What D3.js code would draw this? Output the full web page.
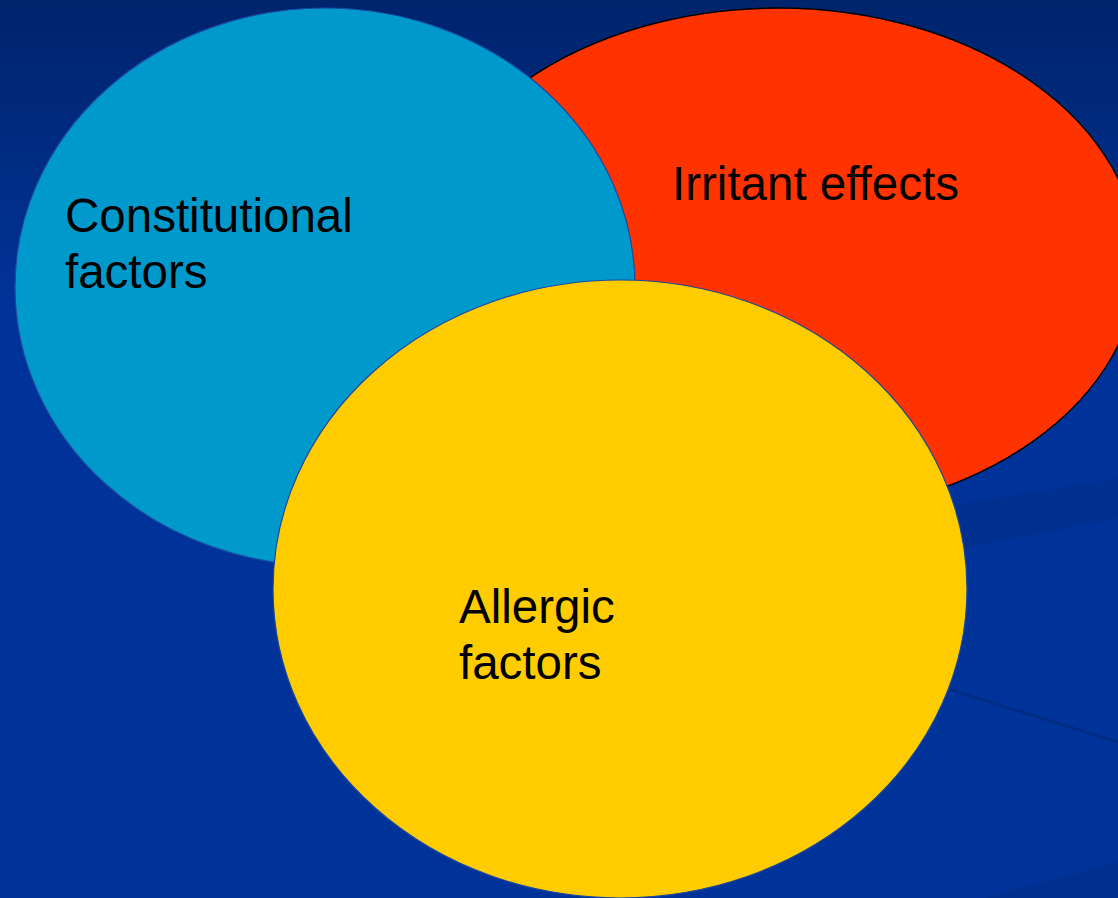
<!DOCTYPE html>
<html>
<head>
<meta charset="utf-8">
<script src="https://cdn.jsdelivr.net/npm/d3@7"></script>
<style>
  html, body { margin: 0; padding: 0; background: #003399; }
  svg { display: block; }
</style>
</head>
<body>
<svg id="chart" width="1118" height="898"></svg>
<script>
// the three factor sets, drawn back to front
var setNames = ["Irritant effects", "Constitutional factors", "Allergic factors"];
var setLines = [["Irritant effects"], ["Constitutional", "factors"], ["Allergic", "factors"]];
var setColors = ["#ff3300", "#0099cc", "#ffcc00"];
var setStrokes = ["#000000", "#1a47a0", "#1a47a0"];

// ellipse layout, in slide units (0..1118 x 0..898)
var cxs = [778, 325, 620];
var cys = [262, 287, 589];
var rxs = [360, 310, 347];
var rys = [254, 279, 309];

// label anchor (left, first baseline)
var labelX = [672, 65, 459];
var labelY = [200, 232, 623];

var width = 1118, height = 898;
var x = d3.scaleLinear().domain([0, 1118]).range([0, width]);
var y = d3.scaleLinear().domain([0, 898]).range([0, height]);

var svg = d3.select("#chart");
var defs = svg.append("defs");

// slide background: dark navy at the top fading into royal blue
var grad = defs.append("linearGradient").attr("id", "bg")
  .attr("x1", 0).attr("y1", 0).attr("x2", 0).attr("y2", 1);
grad.append("stop").attr("offset", "0%").attr("stop-color", "#00246c");
grad.append("stop").attr("offset", "35%").attr("stop-color", "#003399");
grad.append("stop").attr("offset", "100%").attr("stop-color", "#003399");

svg.append("rect").attr("width", width).attr("height", height).attr("fill", "url(#bg)");

// faint streaks on the right side of the background
var streaks = svg.append("g");
streaks.append("path")
  .attr("d", "M955,505 L1118,478 L1118,518 L965,548 Z")
  .attr("fill", "#002f8c").attr("opacity", 0.8);
streaks.append("path")
  .attr("d", "M945,688 L1118,742")
  .attr("stroke", "#002a80").attr("stroke-width", 3).attr("fill", "none").attr("opacity", 0.8);
streaks.append("path")
  .attr("d", "M985,898 L1118,862 L1118,898 Z")
  .attr("fill", "#002f8c").attr("opacity", 0.8);

var idx = d3.range(setNames.length);

svg.append("g").selectAll("ellipse")
  .data(idx)
  .join("ellipse")
  .attr("cx", function(i) { return x(cxs[i]); })
  .attr("cy", function(i) { return y(cys[i]); })
  .attr("rx", function(i) { return x(rxs[i]) - x(0); })
  .attr("ry", function(i) { return y(rys[i]) - y(0); })
  .attr("fill", function(i) { return setColors[i]; })
  .attr("stroke", function(i) { return setStrokes[i]; })
  .attr("stroke-width", function(i) { return i == 0 ? 1.5 : 1.2; });

var labels = svg.append("g")
  .style("font-family", "'Liberation Sans', Arial, sans-serif")
  .style("font-size", "47.5px")
  .attr("fill", "#000000");

idx.forEach(function(i) {
  var t = labels.append("text")
    .attr("x", x(labelX[i]))
    .attr("y", y(labelY[i]));
  setLines[i].forEach(function(line, k) {
    t.append("tspan")
      .attr("x", x(labelX[i]))
      .attr("dy", k == 0 ? 0 : 56)
      .text(line);
  });
});
</script>
</body>
</html>
